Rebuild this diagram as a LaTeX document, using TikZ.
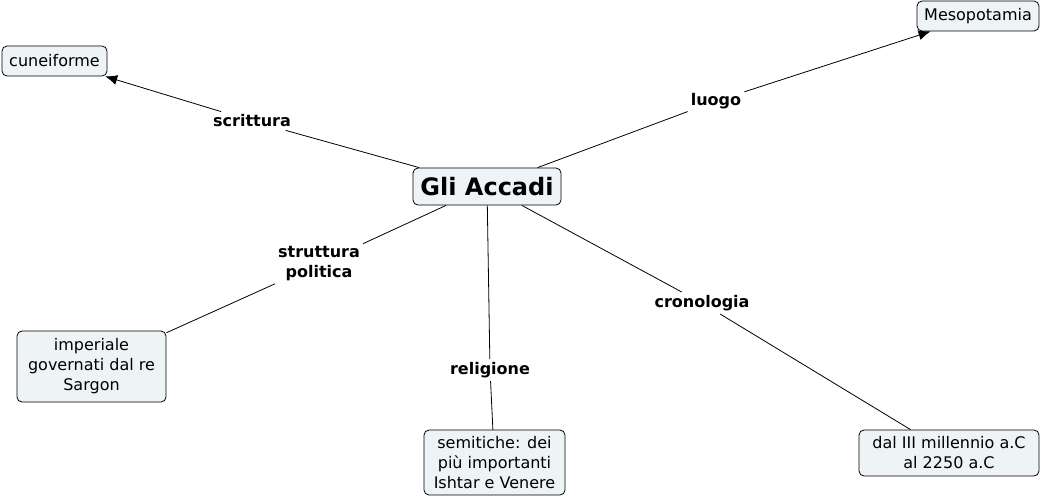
\documentclass[tikz,border=0pt]{standalone}
\usepackage{fontspec}
\setmainfont{DejaVu Sans}
\usetikzlibrary{arrows.meta}
\definecolor{boxfill}{RGB}{238,244,246}
\tikzset{
  concept/.style={draw=black, fill=boxfill, rounded corners=5pt, align=center, inner sep=2pt,
    font=\fontsize{16}{20}\selectfont, line width=0.8pt},
  linklabel/.style={align=center, inner sep=3pt, font=\fontsize{16}{20}\selectfont\bfseries},
  conn/.style={draw=black, line width=0.8pt},
  arr/.style={conn, -{Latex[length=12pt,width=10pt]}}
}
\begin{document}
\begin{tikzpicture}[x=1pt,y=-1pt]
\useasboundingbox (0,0) rectangle (1043,499);
\node[concept, minimum width=148pt, minimum height=37pt, font=\fontsize{24}{28}\selectfont\bfseries] (main) at (487,186.5) {Gli Accadi};
\node[concept, minimum width=105pt, minimum height=30pt] (cune) at (54.5,61) {cuneiforme};
\node[concept, minimum width=122pt, minimum height=30pt] (meso) at (978,16) {Mesopotamia};
\node[concept, minimum width=149pt, minimum height=71pt] (imp) at (91.5,366.5) {imperiale\\governati dal re\\Sargon};
\node[concept, minimum width=141pt, minimum height=65pt] (sem) at (494.5,462.5) {semitiche: dei\\più importanti\\Ishtar e Venere};
\node[concept, minimum width=180pt, minimum height=46pt] (dal) at (949,453) {dal III millennio a.C\\al 2250 a.C};

\node[linklabel] (l1) at (252,121) {scrittura};
\node[linklabel] (l2) at (716,101) {luogo};
\node[linklabel] (l3) at (319,264) {struttura\\politica};
\node[linklabel] (l4) at (490,370) {religione};
\node[linklabel] (l5) at (702,303) {cronologia};

\draw[conn] (main) -- (l1);
\draw[arr] (l1) -- (cune);
\draw[conn] (main) -- (l2);
\draw[arr] (l2) -- (meso);
\draw[conn] (main) -- (l3);
\draw[conn] (l3) -- (imp);
\draw[conn] (main) -- (l4);
\draw[conn] (l4) -- (sem);
\draw[conn] (main) -- (l5);
\draw[conn] (l5) -- (dal);
\end{tikzpicture}
\end{document}
